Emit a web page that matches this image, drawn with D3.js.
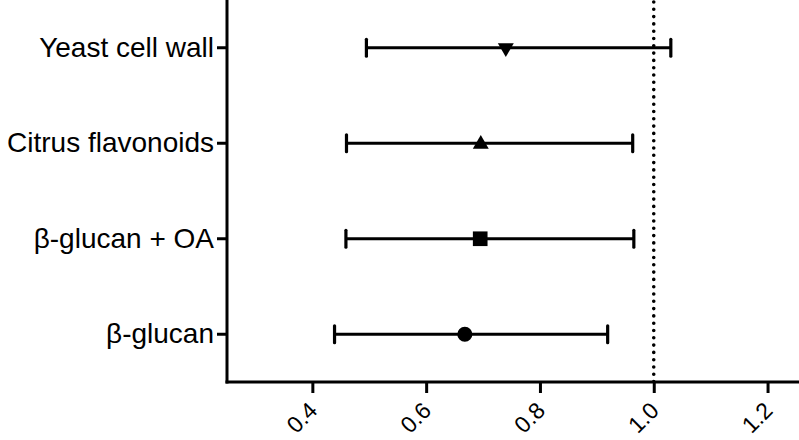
<!DOCTYPE html>
<html>
<head>
<meta charset="utf-8">
<script src="https://cdn.jsdelivr.net/npm/d3@7"></script>
<style>
  body { margin: 0; background: #fff; }
  text { font-family: "Liberation Sans", Arial, sans-serif; fill: #000; }
</style>
</head>
<body>
<svg id="chart"></svg>
<script>
let width = 799;
let height = 440;

// data (top to bottom)
let groups = ["Yeast cell wall", "Citrus flavonoids", "β-glucan + OA", "β-glucan"];
let estimates = [0.74, 0.696, 0.695, 0.668];
let lowers = [0.495, 0.46, 0.459, 0.439];
let uppers = [1.03, 0.963, 0.965, 0.919];
let markers = ["triangleDown", "triangle", "square", "circle"];
let xTicks = [0.4, 0.6, 0.8, 1.0, 1.2];
let refValue = 1.0;

let margin = {left: 227, top: 0, bottom: 382};

let svg = d3.select("#chart")
    .attr("width", width)
    .attr("height", height);

let x = d3.scaleLinear()
    .domain([0.25, 1.25])
    .range([margin.left, 796]);

let y = d3.scaleBand()
    .domain(groups)
    .range([margin.top, margin.bottom]);

let yc = function (g) { return y(g) + y.bandwidth() / 2; };

// reference line at 1.0
svg.append("line")
    .attr("x1", x(refValue)).attr("x2", x(refValue))
    .attr("y1", 2).attr("y2", margin.bottom)
    .attr("stroke", "#000")
    .attr("stroke-width", 3.6)
    .attr("stroke-linecap", "round")
    .attr("stroke-dasharray", "0,7.3");

// x axis
let xAxis = svg.append("g")
    .attr("transform", "translate(0," + margin.bottom + ")")
    .call(d3.axisBottom(x).tickValues(xTicks).tickFormat(d3.format(".1f")).tickSizeOuter(0).tickSize(11));
xAxis.select(".domain").attr("stroke-width", 3).attr("d", "M" + (margin.left - 1.5) + ",0H" + width);
xAxis.selectAll(".tick line").attr("stroke-width", 3);
xAxis.selectAll(".tick text")
    .attr("font-size", 23)
    .attr("text-anchor", "end")
    .attr("y", 0)
    .attr("dy", 0)
    .attr("transform", "translate(6,30) rotate(-45)");

// y axis
let yAxis = svg.append("g")
    .attr("transform", "translate(" + margin.left + ",0)")
    .call(d3.axisLeft(y).tickSizeOuter(0).tickSize(10).tickPadding(3));
yAxis.select(".domain").attr("stroke-width", 3).attr("d", "M0," + margin.top + "V" + (margin.bottom + 1.5));
yAxis.selectAll(".tick line").attr("stroke-width", 3);
yAxis.selectAll(".tick text").attr("font-size", 28);
svg.selectAll(".domain, .tick line").attr("stroke", "#000");

// error bars
let rows = groups.map(function (g, i) {
    return {g: g, est: estimates[i], lo: lowers[i], hi: uppers[i], m: markers[i]};
});

let bars = svg.append("g").selectAll("g")
    .data(rows)
    .enter().append("g");

bars.append("line")
    .attr("x1", d => x(d.lo)).attr("x2", d => x(d.hi))
    .attr("y1", d => yc(d.g)).attr("y2", d => yc(d.g))
    .attr("stroke", "#000").attr("stroke-width", 3.2);

bars.selectAll(".cap")
    .data(d => [d.lo, d.hi].map(v => ({v: v, g: d.g})))
    .enter().append("line")
    .attr("class", "cap")
    .attr("x1", d => x(d.v)).attr("x2", d => x(d.v))
    .attr("y1", d => yc(d.g) - 8.5).attr("y2", d => yc(d.g) + 8.5)
    .attr("stroke", "#000").attr("stroke-width", 3.2)
    .attr("stroke-linecap", "round");

let symbolFor = {
    circle: d3.symbol().type(d3.symbolCircle).size(180),
    square: d3.symbol().type(d3.symbolSquare).size(215),
    triangle: d3.symbol().type(d3.symbolTriangle).size(110),
    triangleDown: d3.symbol().type(d3.symbolTriangle).size(110)
};

bars.append("path")
    .attr("d", d => symbolFor[d.m]())
    .attr("transform", function (d) {
        let t = "translate(" + x(d.est) + "," + yc(d.g) + ")";
        if (d.m === "triangleDown") t += " rotate(180)";
        if (d.m === "triangle") t += " translate(0,1)";
        return t;
    })
    .attr("fill", "#000");
</script>
</body>
</html>
